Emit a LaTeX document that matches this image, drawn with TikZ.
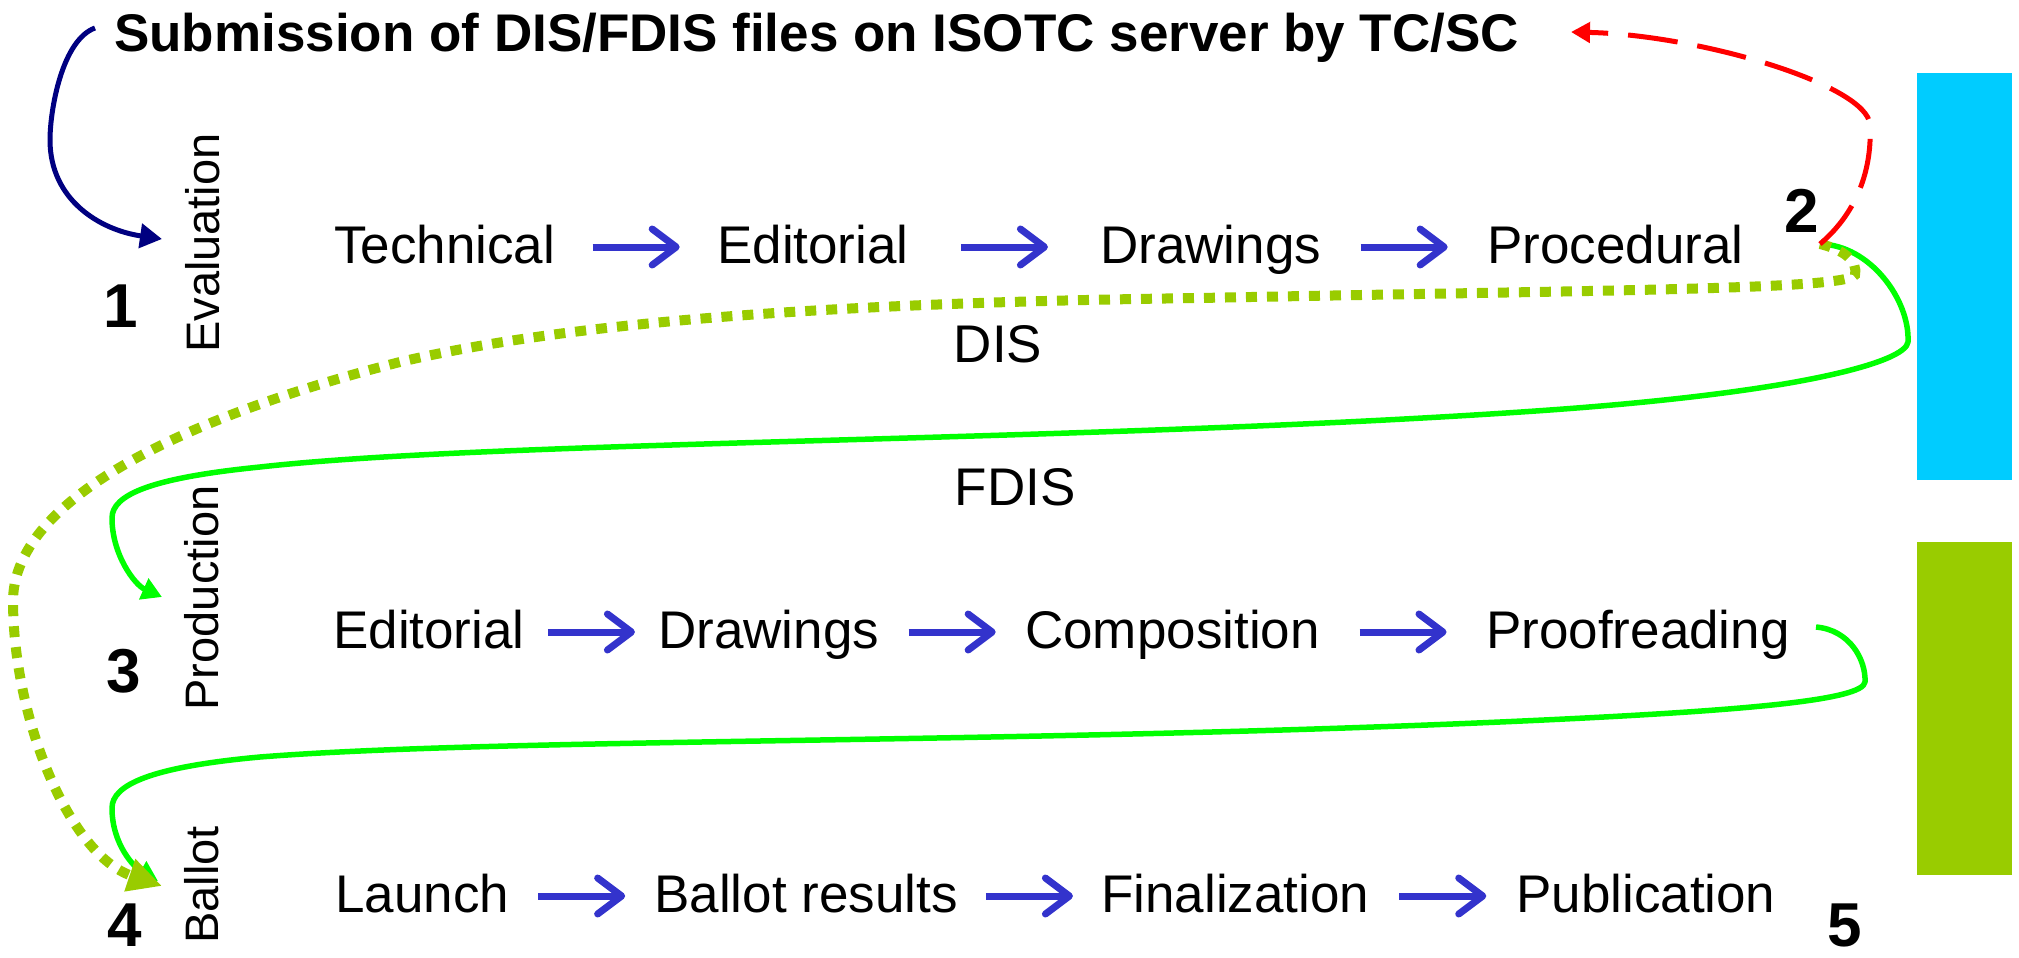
\documentclass[tikz,border=0pt]{standalone}
\usepackage{fontspec}
\setmainfont{Liberation Sans}
\usetikzlibrary{arrows.meta,calc}
\definecolor{navyc}{HTML}{000080}
\definecolor{flowblue}{HTML}{3333CC}
\definecolor{redc}{HTML}{FF0000}
\definecolor{limec}{HTML}{00FF00}
\definecolor{olivec}{HTML}{99CC00}
\definecolor{cyanc}{HTML}{00CCFF}
\newcommand\flowarr[2]{\draw[flow] let \p1=(#1.base east), \p2=(#2.base west), \n1={((\x2-\x1)-87)/2} in ([xshift=\n1,yshift=16pt]\p1) -- ([xshift=-\n1,yshift=16pt]\p2);}
\begin{document}
\begin{tikzpicture}[x=1pt,y=-1pt,
  lbl/.style={inner sep=0pt, anchor=base west, font=\fontsize{53}{60}\selectfont},
  vlbl/.style={inner sep=0pt, anchor=base, rotate=90, font=\fontsize{47}{55}\selectfont},
  num/.style={inner sep=0pt, anchor=base, font=\fontsize{62}{70}\selectfont\bfseries},
  ttl/.style={inner sep=0pt, anchor=base west, font=\fontsize{53}{60}\selectfont\bfseries},
  flow/.style={draw=flowblue, line width=7pt, -{Straight Barb[length=24pt,width=36pt,line width=7pt,round]}},
  navyarr/.style={draw=navyc, line width=5pt, -{Triangle[length=22pt,width=24pt]}},
  redarr/.style={draw=redc, line width=5pt, dash pattern=on 50pt off 20pt, -{Triangle[length=19pt,width=20pt]}},
  limearr/.style={draw=limec, line width=5.5pt, line join=round, -{Triangle[length=20pt,width=22pt]}},
  olivearr/.style={draw=olivec, line width=10pt, dash pattern=on 11pt off 10pt, -{Triangle[length=34pt,width=32pt]}},
  barbox/.style={fill=#1, draw=none}
]
\useasboundingbox (0,0) rectangle (2019,958);

% side bars
\fill[barbox=cyanc] (1917,73) rectangle (2012,480);
\fill[barbox=olivec] (1917,542) rectangle (2012,875);

% title
\node[ttl] (title) at (114,52) {Submission of DIS/FDIS files on ISOTC server by TC/SC};

% stage labels
\node[vlbl] (evalL) at (219,243) {Evaluation};
\node[vlbl] (prodL) at (218,598) {Production};
\node[vlbl] (ballL) at (218,885) {Ballot};

% numbers
\node[num] (n1) at (121,327) {1};
\node[num] (n2) at (1802,232) {2};
\node[num] (n3) at (124,692) {3};
\node[num] (n4) at (125,946) {4};
\node[num] (n5) at (1845,946) {5};

% row 1
\node[lbl] (tech) at (334,263) {Technical};
\node[lbl] (edit1) at (717,263) {Editorial};
\node[lbl] (draw1) at (1100,263) {Drawings};
\node[lbl] (proc) at (1487,263) {Procedural};
% row 2
\node[lbl] (edit2) at (333,648) {Editorial};
\node[lbl] (draw2) at (658,648) {Drawings};
\node[lbl] (comp) at (1025,648) {Composition};
\node[lbl] (proof) at (1486,648) {Proofreading};
% row 3
\node[lbl] (launch) at (335,912) {Launch};
\node[lbl] (bres) at (654,912) {Ballot results};
\node[lbl] (final) at (1101,912) {Finalization};
\node[lbl] (publ) at (1516,912) {Publication};

% route labels
\node[lbl, anchor=base] (dis) at (998,362) {DIS};
\node[lbl, anchor=base] (fdis) at (1015,505) {FDIS};

% flow arrows
\flowarr{tech}{edit1}
\flowarr{edit1}{draw1}
\flowarr{draw1}{proc}
\flowarr{edit2}{draw2}
\flowarr{draw2}{comp}
\flowarr{comp}{proof}
\flowarr{launch}{bres}
\flowarr{bres}{final}
\flowarr{final}{publ}

% connector end points
\coordinate (navyS) at (95,28);
\coordinate (navyE) at (162,239);
\coordinate (hub) at (1820,244);
\coordinate (redE) at (1571,32);
\coordinate (prodIn) at (162,597);
\coordinate (proofOut) at (1816,627);
\coordinate (ballIn) at (158,881);
\coordinate (ballTip) at (162,886);

% submission -> evaluation
\draw[navyarr] (navyS) .. controls (62,40) and (50,110) .. (50,140)
  .. controls (50,200) and (100,230) .. (navyE);

% FDIS route: procedural -> production
\draw[limearr] (hub) .. controls (1870,245) and (1910,300) .. (1908,342)
  .. controls (1906,362) and (1800,392) .. (1550,410)
  .. controls (1100,442) and (500,440) .. (260,467)
  .. controls (150,478) and (112,495) .. (112,518)
  .. controls (112,555) and (135,585) .. (prodIn);

% proofreading -> ballot
\draw[limearr] (proofOut) .. controls (1850,630) and (1866,660) .. (1865,682)
  .. controls (1863,700) and (1750,711) .. (1500,722)
  .. controls (1000,744) and (500,738) .. (260,757)
  .. controls (150,767) and (112,785) .. (112,808)
  .. controls (112,845) and (135,868) .. (ballIn);

% DIS route: procedural -> ballot
\draw[olivearr] (hub) .. controls (1845,250) and (1858,262) .. (1855,275)
  .. controls (1845,290) and (1600,290) .. (1200,298)
  .. controls (900,302) and (600,315) .. (400,362)
  .. controls (250,400) and (15,480) .. (13,600)
  .. controls (13,720) and (70,855) .. (ballTip);

% return to submission
\draw[redarr] (hub) .. controls (1860,210) and (1872,165) .. (1870,125)
  .. controls (1868,85) and (1700,35) .. (redE);
\end{tikzpicture}
\end{document}
